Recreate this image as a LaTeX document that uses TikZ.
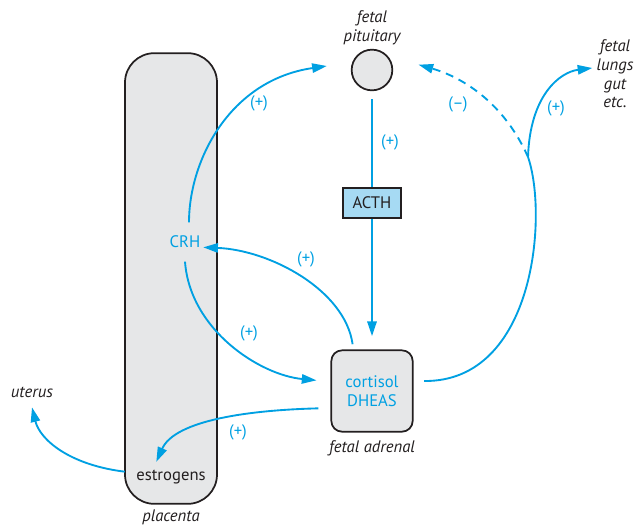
\documentclass[tikz,border=0pt]{standalone}
\usepackage{fontspec}
\setmainfont{PT Sans}
\usepackage{tikz}
\usetikzlibrary{arrows.meta}
\definecolor{hormblue}{RGB}{0,160,226}
\definecolor{organgray}{RGB}{230,231,232}
\definecolor{acthblue}{RGB}{166,218,243}
\definecolor{inkgray}{RGB}{35,31,32}
\newcommand{\lbl}{\fontsize{12.5}{14}\selectfont}

\begin{document}
\begin{tikzpicture}[x=0.75pt, y=-0.75pt, >={Triangle[length=11pt,width=7pt]},
    every node/.style={font=\lbl, text=inkgray},
    organ/.style={draw=inkgray, line width=1.3pt, fill=organgray},
    flow/.style={->, hormblue, line width=1.4pt},
    sign/.style={text=hormblue},
    site/.style={font=\lbl\itshape, align=center}]
    \useasboundingbox (0,0) rectangle (638,526);

    % Organs
    \node[organ, rounded corners=22pt, minimum width=69pt, minimum height=338pt]
        (placenta) at (171,278.5) {};
    \node[organ, circle, minimum size=30.5pt, inner sep=0pt] (pit) at (372,70) {};
    \node[organ, rounded corners=8pt, minimum size=61pt, align=center, text=hormblue]
        (adrenal) at (372,391) {cortisol\\DHEAS};
    \node[draw=inkgray, fill=acthblue, line width=1.3pt, minimum width=44pt,
        minimum height=22.5pt] (acth) at (372,203) {ACTH};

    % Hormones made in the placenta
    \node[text=hormblue, inner xsep=2pt, inner ysep=10pt] (crh) at (185,242) {CRH};
    \node[minimum width=69pt, inner sep=2pt] (estr) at (171,477) {estrogens};

    % Site labels
    \node[site] (pitlabel) at (372,28) {fetal\\pituitary};
    \node[site] (adrlabel) at (372,448) {fetal adrenal};
    \node[site] (plalabel) at (171,517) {placenta};
    \node[site] (uterus) at (32,392) {uterus};
    \node[site, inner sep=3pt] (lungs) at (615,74) {fetal\\lungs\\gut\\etc.};

    % Pituitary -> ACTH -> adrenal
    \draw[hormblue, line width=1.4pt, shorten <=6pt] (pit) -- (acth);
    \draw[flow, shorten >=10pt] (acth) -- (adrenal);

    % CRH loop
    \draw[flow] ([xshift=3pt]crh.north) .. controls (189,160) and (230,80)
        .. ([xshift=-18pt,yshift=3pt]pit.west);
    \draw[flow, shorten <=4pt] ([xshift=-14pt]adrenal.north) .. controls (345,290) and (270,250)
        .. ([yshift=-4pt]crh.east);
    \draw[flow] (crh.south) .. controls (190,330) and (260,375)
        .. ([xshift=-10.5pt,yshift=8pt]adrenal.west);

    % Estrogens
    \draw[flow] ([xshift=-9pt,yshift=-13pt]adrenal.west) .. controls (250,410) and (175,420)
        .. ([xshift=-11pt,yshift=4pt]estr.north);
    \draw[flow] ([yshift=4pt]estr.west) .. controls (70,465) and (40,440)
        .. ([yshift=-4pt]uterus.south);

    % Cortisol feedback and targets
    \coordinate (fork) at (528,157);
    \draw[hormblue, line width=1.4pt] ([xshift=8pt,yshift=7.5pt]adrenal.east)
        .. controls (535,382) and (548,215) .. (fork);
    \draw[flow] (fork) .. controls (530,95) and (560,72) .. ([yshift=4.5pt]lungs.west);
    \draw[flow, dash pattern=on 6pt off 4.5pt] (fork) .. controls (505,105) and (465,78)
        .. ([xshift=19pt,yshift=4pt]pit.east);

    % Signs
    \node[sign] (sgcrh) at (259,103) {(+)};
    \node[sign] (sgacth) at (390,142) {(+)};
    \node[sign] (sgadr) at (306,259) {(+)};
    \node[sign] (sgcrhadr) at (249,333) {(+)};
    \node[sign] (sgestr) at (238,432) {(+)};
    \node[sign] (sgneg) at (458,104) {(\textendash)};
    \node[sign] (sglungs) at (556,108) {(+)};
\end{tikzpicture}
\end{document}
